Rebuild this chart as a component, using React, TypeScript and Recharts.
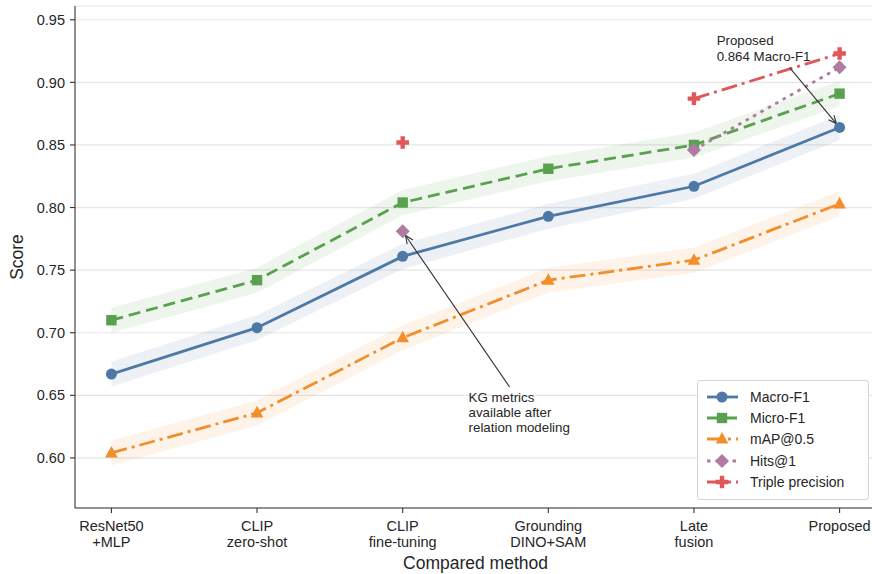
import React from 'react';
import { ComposedChart, Line, Area, XAxis, YAxis, CartesianGrid, Legend, ReferenceLine } from 'recharts';

// Methods along the x axis (line breaks are drawn as two tick lines)
const methods = ['ResNet50\n+MLP', 'CLIP\nzero-shot', 'CLIP\nfine-tuning', 'Grounding\nDINO+SAM', 'Late\nfusion', 'Proposed'];

// Scores per method
const macroF1 = [0.667, 0.704, 0.761, 0.793, 0.817, 0.864];
const microF1 = [0.710, 0.742, 0.804, 0.831, 0.850, 0.891];
const mapAt05 = [0.604, 0.636, 0.696, 0.742, 0.758, 0.803];
const hitsAt1 = [null, null, 0.781, null, 0.846, 0.912];
const triplePrecision = [null, null, 0.852, null, 0.887, 0.923];

const yTicks = [0.6, 0.65, 0.7, 0.75, 0.8, 0.85, 0.9, 0.95];
const xTicks = [0, 1, 2, 3, 4, 5];
const BAND = 0.01; // half width of the shaded band

const FONT = '"Liberation Sans", Arial, sans-serif';
const INK = '#262626';

type Shape = 'circle' | 'square' | 'triangle' | 'diamond' | 'plus';

const series: { key: string; name: string; color: string; dash?: string; shape: Shape; band: boolean }[] = [
  { key: 'macro', name: 'Macro-F1', color: '#4e79a7', shape: 'circle', band: true },
  { key: 'micro', name: 'Micro-F1', color: '#59a14f', dash: '12 6', shape: 'square', band: true },
  { key: 'map', name: 'mAP@0.5', color: '#f28e2b', dash: '16 5 3 5', shape: 'triangle', band: true },
  { key: 'hits', name: 'Hits@1', color: '#b07aa1', dash: '3.5 5', shape: 'diamond', band: false },
  { key: 'triple', name: 'Triple precision', color: '#e15759', dash: '16 5 3 5', shape: 'plus', band: false },
];

const data = methods.map((m, i) => ({
  x: i,
  macro: macroF1[i],
  micro: microF1[i],
  map: mapAt05[i],
  hits: hitsAt1[i],
  triple: triplePrecision[i],
  macroBand: [macroF1[i] - BAND, macroF1[i] + BAND],
  microBand: [microF1[i] - BAND, microF1[i] + BAND],
  mapBand: [mapAt05[i] - BAND, mapAt05[i] + BAND],
}));

// Annotation arrows (text + arrow pointing at a data point)
const annotations = [
  { lines: ['Proposed', '0.864 Macro-F1'], from: { x: 4.657, y: 0.9117 }, to: { x: 5, y: macroF1[5] }, dx: -73, dys: [-23, -7] },
  { lines: ['KG metrics', 'available after', 'relation modeling'], from: { x: 2.734, y: 0.6567 }, to: { x: 2, y: hitsAt1[2] as number }, dx: -41, dys: [15.5, 30.5, 45.5] },
];

function Marker({ shape, cx, cy, color }: { shape: Shape; cx: number; cy: number; color: string }) {
  switch (shape) {
    case 'circle':
      return <circle cx={cx} cy={cy} r={5.5} fill={color} />;
    case 'square':
      return <rect x={cx - 5.2} y={cy - 5.2} width={10.4} height={10.4} fill={color} />;
    case 'triangle':
      return <path d={`M${cx},${cy - 7} L${cx + 6.3},${cy + 4.6} L${cx - 6.3},${cy + 4.6}Z`} fill={color} />;
    case 'diamond':
      return <path d={`M${cx},${cy - 7} L${cx + 7},${cy} L${cx},${cy + 7} L${cx - 7},${cy}Z`} fill={color} />;
    case 'plus': {
      const a = 6.3, w = 2.2;
      return (
        <path
          d={`M${cx - w},${cy - a} H${cx + w} V${cy - w} H${cx + a} V${cy + w} H${cx + w} V${cy + a} H${cx - w} V${cy + w} H${cx - a} V${cy - w} H${cx - w}Z`}
          fill={color}
        />
      );
    }
  }
  return null;
}

const MethodTick = ({ x, y, payload }: any) => {
  const lines = (methods[payload.value] || '').split('\n');
  return (
    <text x={x} y={y} textAnchor="middle" fill={INK} fontSize={14.5} fontFamily={FONT}>
      {lines.map((l, i) => (
        <tspan key={i} x={x} dy={i === 0 ? '0.71em' : 16}>
          {l}
        </tspan>
      ))}
    </text>
  );
};

const arrowShape = (ann: (typeof annotations)[number]) => (props: any) => {
  const { x1, y1, x2, y2 } = props;
  const ang = Math.atan2(y2 - y1, x2 - x1);
  const ex = x2 - Math.cos(ang) * 5;
  const ey = y2 - Math.sin(ang) * 5;
  const hl = 8, hw = 3.5;
  const bx = ex - Math.cos(ang) * hl;
  const by = ey - Math.sin(ang) * hl;
  const px = -Math.sin(ang) * hw;
  const py = Math.cos(ang) * hw;
  return (
    <g>
      <line x1={x1} y1={y1} x2={ex} y2={ey} stroke="#333" strokeWidth={1.1} />
      <path d={`M${bx + px},${by + py} L${ex},${ey} L${bx - px},${by - py}`} fill="none" stroke="#333" strokeWidth={1.1} />
      <text fontSize={13.3} fontFamily={FONT} fill={INK}>
        {ann.lines.map((l, i) => (
          <tspan key={i} x={x1 + ann.dx} y={y1 + ann.dys[i]}>
            {l}
          </tspan>
        ))}
      </text>
    </g>
  );
};

const LegendBox = () => (
  <div
    style={{
      width: 172,
      height: 120,
      boxSizing: 'border-box',
      border: '1px solid #d4d4d4',
      borderRadius: 3,
      background: 'rgba(255,255,255,0.92)',
      padding: '5px 0 0 9px',
      fontFamily: FONT,
      fontSize: 14,
      color: INK,
    }}
  >
    {series.map((s) => (
      <div key={s.key} style={{ display: 'flex', alignItems: 'center', height: 21.3 }}>
        <svg width={31} height={16} style={{ overflow: 'visible' }}>
          <line x1={0} y1={8} x2={31} y2={8} stroke={s.color} strokeWidth={2.8} strokeDasharray={s.dash} />
          <Marker shape={s.shape} cx={15} cy={8} color={s.color} />
        </svg>
        <span style={{ marginLeft: 12 }}>{s.name}</span>
      </div>
    ))}
  </div>
);

export default function App() {
  return (
    <div style={{ position: 'absolute', left: 0, top: 0, width: 872, height: 574, overflow: 'hidden', background: '#fff' }}>
      <ComposedChart width={880} height={574} data={data} margin={{ top: 6, right: 4, bottom: 0, left: 0 }}>
        <CartesianGrid vertical={false} stroke="#e6e6e6" strokeWidth={1.2} />
        <XAxis
          type="number"
          dataKey="x"
          domain={[-0.25, 5.25]}
          ticks={xTicks}
          allowDataOverflow
          height={66}
          tick={<MethodTick />}
          tickSize={5}
          tickMargin={8}
          axisLine={{ stroke: '#333', strokeWidth: 1.1 }}
          tickLine={{ stroke: '#333', strokeWidth: 1.1 }}
          label={({ viewBox }: any) => (
            <text x={viewBox.x + viewBox.width / 2} y={viewBox.y + viewBox.height - 5} textAnchor="middle" fontSize={17.5} fontFamily={FONT} fill={INK}>
              Compared method
            </text>
          )}
        />
        <YAxis
          type="number"
          domain={[0.56, 0.961]}
          ticks={yTicks}
          allowDataOverflow
          width={75}
          tickFormatter={(v: number) => v.toFixed(2)}
          tick={{ fontSize: 14.5, fontFamily: FONT, fill: INK }}
          tickSize={5}
          tickMargin={5}
          axisLine={{ stroke: '#333', strokeWidth: 1.1 }}
          tickLine={{ stroke: '#333', strokeWidth: 1.1 }}
          label={({ viewBox }: any) => {
            const cy = viewBox.y + viewBox.height / 2;
            return (
              <text x={17} y={cy} transform={`rotate(-90 17 ${cy})`} textAnchor="middle" dominantBaseline="central" fontSize={17.5} fontFamily={FONT} fill={INK}>
                Score
              </text>
            );
          }}
        />
        {series
          .filter((s) => s.band)
          .map((s) => (
            <Area
              key={s.key + 'Band'}
              dataKey={s.key + 'Band'}
              type="linear"
              stroke="none"
              fill={s.color}
              fillOpacity={0.1}
              isAnimationActive={false}
              legendType="none"
              activeDot={false}
            />
          ))}
        {series.map((s) => (
          <Line
            key={s.key}
            dataKey={s.key}
            name={s.name}
            type="linear"
            stroke={s.color}
            strokeWidth={2.8}
            strokeDasharray={s.dash}
            isAnimationActive={false}
            activeDot={false}
            dot={(p: any) =>
              p.value == null || p.cy == null ? (
                <g key={p.index} />
              ) : (
                <Marker key={p.index} shape={s.shape} cx={p.cx} cy={p.cy} color={s.color} />
              )
            }
          />
        ))}
        {annotations.map((a, i) => (
          <ReferenceLine
            key={i}
            segment={[a.from, a.to]}
            ifOverflow="visible"
            shape={arrowShape(a)}
          />
        ))}
        <Legend
          layout="vertical"
          align="center"
          verticalAlign="middle"
          content={() => <LegendBox />}
          wrapperStyle={{ left: 697, top: 380, right: 'auto', bottom: 'auto', width: 172 }}
        />
      </ComposedChart>
    </div>
  );
}
